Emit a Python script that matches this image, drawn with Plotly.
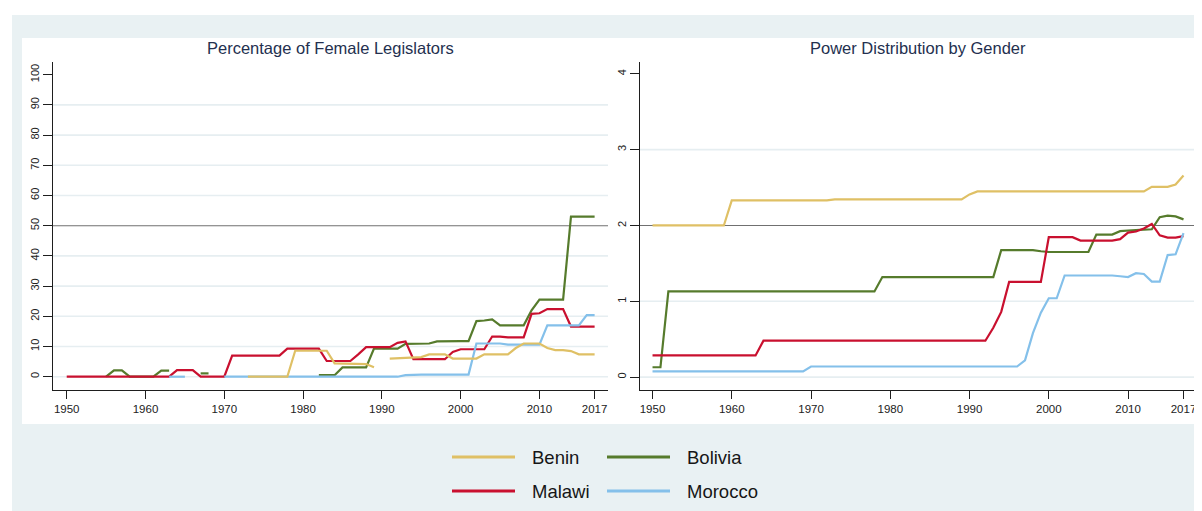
import plotly.graph_objects as go

# The page body has an 8px margin, so the figure is drawn at (8, 8) in the window.
OFF = 8
W, H = 1202 - OFF, 511 - OFF
years = list(range(1950, 2018))

# ---------------- Left panel: Percentage of female legislators ----------------
benin_pct = (
    [None] * 20 +                                                     # 1950-1969
    [None, None, None, 0, 0, 0, 0, 0, 0, 8.6] +                       # 1970-1979
    [8.6, 8.6, 8.6, 8.6, 4.4, 4.3, 4.3, 4.2, 4.2, 3.1] +              # 1980-1989
    [None, 6.0, 6.1, 6.4, 6.4, 6.5, 7.4, 7.4, 7.4, 6.0] +              # 1990-1999
    [6.0, 6.0, 6.0, 7.4, 7.4, 7.4, 7.4, 9.5, 11.0, 11.0] +            # 2000-2009
    [11.0, 9.5, 8.8, 8.8, 8.5, 7.4, 7.4, 7.4]                         # 2010-2017
)
bolivia_pct = (
    [None, None, None, None, None, 0, 2.1, 2.1, 0, 0] +               # 1950-1959
    [0, 0, 2.0, 2.0, None, None, None, 1.1, 1.1, None] +              # 1960-1969
    [None] * 10 +                                                     # 1970-1979
    [None, None, 0.5, 0.5, 0.5, 3.1, 3.1, 3.1, 3.1, 9.3] +            # 1980-1989
    [9.3, 9.3, 9.3, 10.9, 10.9, 10.9, 11.0, 11.7, 11.8, 11.8] +       # 1990-1999
    [11.8, 11.8, 18.4, 18.6, 19.0, 17.0, 17.0, 17.0, 17.0, 22.0] +    # 2000-2009
    [25.5, 25.5, 25.5, 25.5, 53.0, 53.0, 53.0, 53.0]                  # 2010-2017
)
malawi_pct = (
    [0, 0, 0, 0, 0, 0, 0, 0, 0, 0] +                                  # 1950-1959
    [0, 0, 0, 0, 2.2, 2.2, 2.2, 0, 0, 0] +                            # 1960-1969
    [0, 7.0, 7.0, 7.0, 7.0, 7.0, 7.0, 7.0, 9.3, 9.3] +                # 1970-1979
    [9.3, 9.3, 9.3, 5.2, 5.2, 5.2, 5.2, 7.4, 9.8, 9.8] +              # 1980-1989
    [9.8, 9.8, 11.2, 11.7, 5.8, 5.8, 5.8, 5.8, 5.8, 8.2] +            # 1990-1999
    [9.1, 9.1, 9.1, 9.1, 13.3, 13.3, 13.0, 13.0, 13.0, 20.8] +        # 2000-2009
    [21.0, 22.4, 22.4, 22.4, 16.6, 16.6, 16.6, 16.6]                  # 2010-2017
)
morocco_pct = (
    [None] * 10 +                                                     # 1950-1959
    [None, None, None, 0, 0, 0, None, None, None, None] +             # 1960-1969
    [0] * 10 +                                                        # 1970-1979
    [0] * 10 +                                                        # 1980-1989
    [0, 0, 0, 0.5, 0.7, 0.7, 0.7, 0.7, 0.7, 0.7] +                    # 1990-1999
    [0.7, 0.7, 11.0, 11.0, 11.0, 11.0, 10.6, 10.6, 10.6, 10.6] +      # 2000-2009
    [10.6, 17.0, 17.0, 17.0, 17.0, 17.0, 20.4, 20.4]                  # 2010-2017
)

# ---------------- Right panel: Power distribution by gender ----------------
benin_pow = (
    [2.0] * 10 +                                                      # 1950-1959
    [2.33] * 10 +                                                     # 1960-1969
    [2.33, 2.33, 2.33, 2.345, 2.345, 2.345, 2.345, 2.345, 2.345, 2.345] +
    [2.345] * 10 +                                                    # 1980-1989
    [2.41] + [2.45] * 9 +                                             # 1990-1999
    [2.45] * 10 +                                                     # 2000-2009
    [2.45, 2.45, 2.45, 2.51, 2.51, 2.51, 2.54, 2.66]                  # 2010-2017
)
bolivia_pow = (
    [0.13, 0.13] + [1.13] * 8 +                                       # 1950-1959
    [1.13] * 10 +                                                     # 1960-1969
    [1.13] * 9 + [1.32] +                                             # 1970-1979
    [1.32] * 10 +                                                     # 1980-1989
    [1.32, 1.32, 1.32, 1.32, 1.675, 1.675, 1.675, 1.675, 1.675, 1.66] +
    [1.65, 1.65, 1.65, 1.65, 1.65, 1.65, 1.88, 1.88, 1.88, 1.925] +   # 2000-2009
    [1.935, 1.94, 1.945, 1.95, 2.11, 2.13, 2.12, 2.08]                # 2010-2017
)
malawi_pow = (
    [0.286] * 10 +                                                    # 1950-1959
    [0.286, 0.286, 0.286, 0.286, 0.48, 0.48, 0.48, 0.48, 0.48, 0.48] +
    [0.48] * 10 +                                                     # 1970-1979
    [0.48] * 10 +                                                     # 1980-1989
    [0.48, 0.48, 0.48, 0.65, 0.86, 1.255, 1.255, 1.255, 1.255, 1.255] +
    [1.845, 1.845, 1.845, 1.845, 1.80, 1.80, 1.80, 1.80, 1.80, 1.82] +
    [1.905, 1.92, 1.96, 2.02, 1.87, 1.84, 1.84, 1.86]                 # 2010-2017
)
morocco_pow = (
    [0.075] * 10 +                                                    # 1950-1959
    [0.075] * 10 +                                                    # 1960-1969
    [0.14] * 10 +                                                     # 1970-1979
    [0.14] * 10 +                                                     # 1980-1989
    [0.14] * 7 + [0.22, 0.58, 0.85] +                                 # 1990-1999
    [1.04, 1.04, 1.34, 1.34, 1.34, 1.34, 1.34, 1.34, 1.34, 1.33] +    # 2000-2009
    [1.32, 1.37, 1.36, 1.26, 1.26, 1.61, 1.62, 1.90]                  # 2010-2017
)

countries = ["Benin", "Bolivia", "Malawi", "Morocco"]
colors = {"Benin": "#dfc065", "Bolivia": "#567b2c", "Malawi": "#c9102f", "Morocco": "#84c0ea"}
pct = {"Benin": benin_pct, "Bolivia": bolivia_pct, "Malawi": malawi_pct, "Morocco": morocco_pct}
powd = {"Benin": benin_pow, "Bolivia": bolivia_pow, "Malawi": malawi_pow, "Morocco": morocco_pow}
draw_order = ["Bolivia", "Malawi", "Morocco", "Benin"]

x_ticks = [1950, 1960, 1970, 1980, 1990, 2000, 2010, 2017]
y_ticks_left = list(range(0, 101, 10))
y_ticks_right = [0, 1, 2, 3, 4]
ref_left, ref_right = 50, 2
titles = ["Percentage of Female Legislators", "Power Distribution by Gender"]

FONT = "Liberation Sans, Arial, Helvetica, sans-serif"
BG = "#e9f1f3"
GRID = "#e6eef1"
AX = "#1e1e1e"


def fx(px):  # window pixel x -> paper fraction
    return (px - OFF) / W


def fy(py):  # window pixel y -> paper fraction
    return 1 - (py - OFF) / H


fig = go.Figure()
for c in draw_order:
    fig.add_trace(go.Scatter(x=years, y=pct[c], mode="lines", name=c, showlegend=False,
                             line=dict(color=colors[c], width=2.2), xaxis="x", yaxis="y",
                             connectgaps=False, hoverinfo="skip"))
    fig.add_trace(go.Scatter(x=years, y=powd[c], mode="lines", name=c, showlegend=False,
                             line=dict(color=colors[c], width=2.2), xaxis="x2", yaxis="y2",
                             connectgaps=False, hoverinfo="skip"))

ydom = [fy(390), fy(62)]
common_x = dict(tickvals=x_ticks, ticktext=[str(t) for t in x_ticks], ticks="outside", ticklen=8,
                tickwidth=1, tickcolor=AX, showline=True, linecolor=AX, linewidth=1.2,
                showgrid=False, zeroline=False, automargin=False,
                tickfont=dict(family=FONT, size=11.5, color="#222222"))
common_y = dict(ticks="outside", ticklen=9, tickwidth=1, tickcolor=AX, showline=True,
                linecolor=AX, linewidth=1.2, showgrid=False, zeroline=False, automargin=False,
                tickangle=-90, tickfont=dict(family=FONT, size=11, color="#222222"))

fig.update_layout(
    width=W, height=H,
    margin=dict(l=0, r=0, t=0, b=0),
    paper_bgcolor="white", plot_bgcolor="rgba(0,0,0,0)",
    showlegend=False,
    xaxis=dict(domain=[fx(53), fx(608)], range=[1948.26, 2018.7], anchor="y", **common_x),
    yaxis=dict(domain=ydom, range=[-4.4, 104.2], tickvals=y_ticks_left, anchor="x", **common_y),
    xaxis2=dict(domain=[fx(640), fx(1195)], range=[1948.42, 2018.45], anchor="y2", **common_x),
    yaxis2=dict(domain=ydom, range=[-0.17, 4.156], tickvals=y_ticks_right, anchor="x2", **common_y),
)

# background regions
fig.add_shape(type="rect", xref="paper", yref="paper", x0=fx(12), x1=1, y0=0, y1=fy(15),
              fillcolor=BG, line=dict(width=0), layer="below")
fig.add_shape(type="rect", xref="paper", yref="paper", x0=fx(22), x1=fx(1195), y0=fy(424),
              y1=fy(38), fillcolor="white", line=dict(width=0), layer="below")

# gridlines (no gridline at the top label; the reference line replaces its gridline)
for v in y_ticks_left[:-1]:
    if v != ref_left:
        fig.add_shape(type="line", xref="x domain", x0=0, x1=1, yref="y", y0=v, y1=v,
                      line=dict(color=GRID, width=1.6), layer="below")
for v in y_ticks_right[:-1]:
    if v != ref_right:
        fig.add_shape(type="line", xref="x2 domain", x0=0, x1=1, yref="y2", y0=v, y1=v,
                      line=dict(color=GRID, width=1.6), layer="below")
fig.add_shape(type="line", xref="x domain", x0=0, x1=1, yref="y", y0=ref_left, y1=ref_left,
              line=dict(color="#707070", width=1.1), layer="below")
fig.add_shape(type="line", xref="x2 domain", x0=0, x1=1, yref="y2", y0=ref_right, y1=ref_right,
              line=dict(color="#707070", width=1.1), layer="below")

# panel titles
for t, xc in zip(titles, [(53 + 608) / 2, (640 + 1195) / 2]):
    fig.add_annotation(text=t, xref="paper", yref="paper", x=fx(xc), y=fy(48),
                       xanchor="center", yanchor="middle", showarrow=False,
                       font=dict(family=FONT, size=16.5, color="#24304f"))

# manual legend (2 columns)
leg_pos = {"Benin": (452, 457), "Bolivia": (607, 457), "Malawi": (452, 491), "Morocco": (607, 491)}
for c in countries:
    lx, ly = leg_pos[c]
    fig.add_shape(type="line", xref="paper", yref="paper", x0=fx(lx), x1=fx(lx + 63),
                  y0=fy(ly), y1=fy(ly), line=dict(color=colors[c], width=3))
    fig.add_annotation(text=c, xref="paper", yref="paper", x=fx(lx + 78), y=fy(ly),
                       xanchor="left", yanchor="middle", showarrow=False,
                       font=dict(family=FONT, size=18.5, color="#161616"))

fig.write_html("out.html")
